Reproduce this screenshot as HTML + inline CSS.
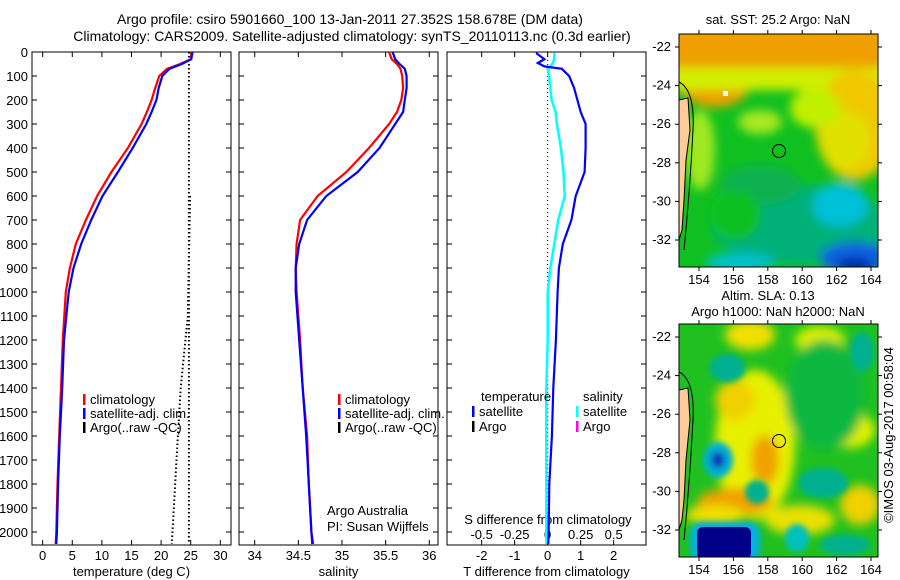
<!DOCTYPE html>
<html><head><meta charset="utf-8">
<style>
html,body{margin:0;padding:0;background:#fff;}
svg{display:block;font-family:"Liberation Sans",sans-serif;}
text{font-size:13px;fill:#000;}
</style></head>
<body>
<svg id="fig" width="900" height="580" viewBox="0 0 900 580" xmlns="http://www.w3.org/2000/svg">
<defs>
<filter id="bl" x="-50%" y="-50%" width="200%" height="200%"><feGaussianBlur stdDeviation="5"/></filter>
<filter id="bl2" x="-50%" y="-50%" width="200%" height="200%"><feGaussianBlur stdDeviation="3"/></filter>
<clipPath id="c1"><rect x="679" y="34" width="199" height="233"/></clipPath>
<clipPath id="c2"><rect x="679" y="324" width="199" height="233"/></clipPath>
</defs>
<text x="350" y="24" text-anchor="middle" style="font-size:14px">Argo profile: csiro 5901660_100 13-Jan-2011 27.352S 158.678E (DM data)</text>
<text x="352" y="41" text-anchor="middle" style="font-size:14px">Climatology: CARS2009. Satellite-adjusted climatology: synTS_20110113.nc (0.3d earlier)</text>

<!-- Map 1 -->
<text x="778" y="24" text-anchor="middle">sat. SST: 25.2 Argo: NaN</text>
<g clip-path="url(#c1)">
<rect x="679" y="34" width="199" height="233" fill="#10c020"/>
<g filter="url(#bl)">
<rect x="660" y="20" width="240" height="50" fill="#f0a000"/>
<ellipse cx="715" cy="85" rx="35" ry="22" fill="#f0a000"/>
<rect x="660" y="68" width="240" height="22" fill="#d0f000"/>
<ellipse cx="855" cy="125" rx="40" ry="55" fill="#f0c800"/>
<ellipse cx="845" cy="140" rx="25" ry="30" fill="#e0e000"/>
<ellipse cx="815" cy="108" rx="25" ry="20" fill="#c0f000"/>
<ellipse cx="760" cy="122" rx="22" ry="12" fill="#a8e820"/>
<ellipse cx="700" cy="150" rx="15" ry="40" fill="#a0e820"/>
<ellipse cx="800" cy="225" rx="90" ry="40" fill="#00b078"/>
<ellipse cx="760" cy="185" rx="40" ry="20" fill="#10b050"/>
<ellipse cx="840" cy="205" rx="28" ry="22" fill="#00c0d8"/>
<ellipse cx="740" cy="262" rx="35" ry="9" fill="#00c0d0"/>
<ellipse cx="735" cy="215" rx="25" ry="25" fill="#10c020"/>
<ellipse cx="855" cy="258" rx="35" ry="16" fill="#1060e0"/>
<ellipse cx="855" cy="265" rx="18" ry="7" fill="#0020a0"/>
</g>
<path d="M679,100 L688,98 L690,130 L686,160 L684,200 L682,230 L679,240 Z" fill="#ffcc99" stroke="#000" stroke-width="1"/>
<path d="M679,82 Q695,90 693,130 Q690,190 684,250" fill="none" stroke="#000"/>
<rect x="723" y="91" width="5" height="5" fill="#fff"/>
</g>
<circle cx="779" cy="151" r="6.5" fill="none" stroke="#000"/>
<rect x="679" y="34" width="199" height="233" fill="none" stroke="#000"/>

<!-- Map 2 -->
<text x="768" y="300" text-anchor="middle">Altim. SLA: 0.13</text>
<text x="778" y="316" text-anchor="middle">Argo h1000: NaN h2000: NaN</text>
<g clip-path="url(#c2)">
<rect x="679" y="324" width="199" height="233" fill="#20c020"/>
<g filter="url(#bl)">
<ellipse cx="755" cy="445" rx="40" ry="75" fill="#e8f000"/>
<ellipse cx="750" cy="335" rx="25" ry="15" fill="#f0e000"/>
<ellipse cx="735" cy="400" rx="20" ry="20" fill="#f0d000"/>
<ellipse cx="765" cy="460" rx="14" ry="25" fill="#f0a000"/>
<ellipse cx="735" cy="502" rx="38" ry="14" fill="#f0a000"/>
<ellipse cx="715" cy="515" rx="30" ry="10" fill="#f0e000"/>
<ellipse cx="850" cy="430" rx="25" ry="18" fill="#e0f000"/>
<ellipse cx="860" cy="505" rx="20" ry="20" fill="#f0d000"/>
<ellipse cx="800" cy="520" rx="35" ry="15" fill="#e8e000"/>
<ellipse cx="820" cy="340" rx="25" ry="14" fill="#d8f000"/>
<ellipse cx="825" cy="395" rx="40" ry="55" fill="#10b840"/>
</g>
<g filter="url(#bl2)">
<ellipse cx="727" cy="368" rx="18" ry="14" fill="#00b090"/>
<ellipse cx="862" cy="352" rx="12" ry="20" fill="#00b090"/>
<ellipse cx="718" cy="460" rx="15" ry="18" fill="#00b0d0"/>
<ellipse cx="718" cy="460" rx="7" ry="8" fill="#1040c0"/>
<ellipse cx="757" cy="492" rx="12" ry="12" fill="#00b090"/>
<ellipse cx="823" cy="483" rx="25" ry="15" fill="#00b090"/>
<ellipse cx="797" cy="538" rx="12" ry="14" fill="#00c0c0"/>
<ellipse cx="845" cy="545" rx="25" ry="10" fill="#00b090"/>
<rect x="690" y="522" width="70" height="40" rx="12" fill="#00b0e0"/>
</g>
<rect x="697" y="527" width="54" height="32" rx="6" fill="#000088"/>
<path d="M679,390 L688,388 L690,420 L686,460 L684,500 L682,520 L679,530 Z" fill="#ffcc99" stroke="#000" stroke-width="1"/>
<path d="M679,372 Q695,380 693,420 Q690,480 684,540" fill="none" stroke="#000"/>
</g>
<circle cx="779" cy="441" r="6.5" fill="none" stroke="#000"/>
<rect x="679" y="324" width="199" height="233" fill="none" stroke="#000"/>
<text transform="translate(893,435) rotate(-90)" text-anchor="middle">©IMOS 03-Aug-2017 00:58:04</text>
<g id="mapaxes"></g>
<g id="panels"></g>
</svg>
<script>
// ---- data ----
const depthTicks = [0,100,200,300,400,500,600,700,800,900,1000,1100,1200,1300,1400,1500,1600,1700,1800,1900,2000];
const tempTicks = [0,5,10,15,20,25,30];
const salTicks = [34,34.5,35,35.5,36];
const salTickLabels = ["34","34.5","35","35.5","36"];
const tdTicks = [-2,-1,0,1,2];
const sdTicks = [-0.5,-0.25,0,0.25,0.5];
const sdTickLabels = ["-0.5","-0.25","0","0.25","0.5"];

const depthsClim = [0,30,50,70,100,150,200,250,300,400,500,600,700,800,900,1000,1200,1400,1600,1800,2000,2050];
const tempClim   = [25.2,25.0,23.2,21.0,19.7,19.0,18.4,17.6,16.7,14.4,11.6,9.2,7.3,5.6,4.6,3.9,3.4,3.1,2.8,2.5,2.3,2.2];
const tempSat    = [25.3,25.1,23.5,21.4,20.2,19.6,19.2,18.4,17.5,15.2,12.7,10.1,8.2,6.5,5.2,4.4,3.6,3.3,2.9,2.6,2.4,2.3];
const salClim    = [35.54,35.57,35.63,35.67,35.69,35.70,35.68,35.63,35.54,35.31,35.05,34.72,34.52,34.48,34.47,34.48,34.52,34.55,34.60,34.62,34.65,34.67];
const salSat     = [35.58,35.61,35.66,35.72,35.74,35.74,35.72,35.70,35.61,35.43,35.18,34.82,34.60,34.51,34.47,34.47,34.51,34.55,34.59,34.62,34.65,34.66];

const argoDepthA = [0,2050];
const argoTempA  = [24.7,24.7];
const argoDepthB = [600,1100,1400,1700,2050];
const argoTempB  = [24.9,24.5,23.3,22.6,21.8];

const depthsDiff = [4,30,46,60,70,100,150,200,250,300,400,500,600,700,800,900,1000,1200,1400,1600,1800,2000,2050];
const tDiffSat   = [-0.35,-0.1,-0.3,-0.1,0.43,0.65,0.8,0.9,1.0,1.15,1.15,1.12,0.85,0.72,0.46,0.34,0.3,0.25,0.17,0.13,0.05,0.03,0.02];
const sDiffSat   = [0.05,0.05,0.04,0.02,0.0,0.01,0.02,0.03,0.06,0.07,0.1,0.12,0.13,0.08,0.05,0.02,0.0,0.0,-0.01,-0.01,-0.01,-0.01,-0.01];

const mapLonTicks = [154,156,158,160,162,164];
const mapLatTicks = [-22,-24,-26,-28,-30,-32];

// ---- axes ----
const NS = "http://www.w3.org/2000/svg";
const Y0 = 52, YB = 545;
function yD(d){ return Y0 + d*0.24; }
function mk(tag, attrs, parent){
  const e = document.createElementNS(NS, tag);
  for (const k in attrs) e.setAttribute(k, attrs[k]);
  parent.appendChild(e); return e;
}
const root = document.getElementById('panels');

function panel(name, x0, x1, xmin, xmax, ticks, labels, xlabel, showY){
  const g = mk('g', {}, root);
  
  
  const sx = v => x0 + (v - xmin) / (xmax - xmin) * (x1 - x0);
  const fr = mk('rect', {x:x0, y:Y0, width:x1-x0, height:YB-Y0, fill:'none', stroke:'#000'}, g);
  
  
  depthTicks.forEach(d => {
    const y = yD(d);
    mk('line', {x1:x0, x2:x0+5, y1:y, y2:y, stroke:'#000'}, g);
    mk('line', {x1:x1-5, x2:x1, y1:y, y2:y, stroke:'#000'}, g);
    if (showY) {
      const t = mk('text', {x:x0-4, y:y+5, 'text-anchor':'end'}, g);
      t.textContent = d;
      
      
    }
  });
  if (ticks) ticks.forEach((v,i) => {
    const x = sx(v);
    mk('line', {x1:x, x2:x, y1:Y0, y2:Y0+5, stroke:'#000'}, g);
    mk('line', {x1:x, x2:x, y1:YB-5, y2:YB, stroke:'#000'}, g);
    const t = mk('text', {x:x, y:YB+15, 'text-anchor':'middle'}, g);
    t.textContent = labels[i];
    
    
  });
  const xl = mk('text', {x:(x0+x1)/2, y:576, 'text-anchor':'middle'}, g);
  xl.textContent = xlabel;
  
  
  return {g, sx};
}
function line(p, depths, vals, color, name, dash, w){
  const pts = depths.map((d,i) => p.sx(vals[i]).toFixed(1) + ',' + yD(d).toFixed(1)).join(' ');
  const a = {points:pts, fill:'none', stroke:color, 'stroke-width':w||2.2};
  if (dash) a['stroke-dasharray'] = dash;
  const e = mk('polyline', a, p.g);
  
  
}
function legend(g, x, y, color, label){
  mk('rect', {x:x, y:y-10, width:2.5, height:11, fill:color}, g);
  const t = mk('text', {x:x+7, y:y}, g);
  t.textContent = label;
  
  
}

// Panel 1: temperature
const p1 = panel('temperature-panel', 32, 231, -1.8, 31.8, tempTicks, tempTicks.map(String), 'temperature (deg C)', true);
line(p1, argoDepthA, argoTempA, '#000', 'argo-temp-line-a', '1.5,2.5', 2);
line(p1, argoDepthB, argoTempB, '#000', 'argo-temp-line-b', '1.5,2.5', 2);
line(p1, depthsClim, tempClim, '#ff0000', 'climatology-temp-line');
line(p1, depthsClim, tempSat, '#0000ff', 'satellite-temp-line');
legend(p1.g, 83, 404, '#ff0000', 'climatology');
legend(p1.g, 83, 418, '#0000ff', 'satellite-adj. clim.');
legend(p1.g, 83, 432, '#000', 'Argo(..raw -QC)');

// Panel 2: salinity
const p2 = panel('salinity-panel', 239, 438, 33.82, 36.1, salTicks, salTickLabels, 'salinity', false);
line(p2, depthsClim, salClim, '#ff0000', 'climatology-salinity-line');
line(p2, depthsClim, salSat, '#0000ff', 'satellite-salinity-line');
legend(p2.g, 338, 404, '#ff0000', 'climatology');
legend(p2.g, 338, 418, '#0000ff', 'satellite-adj. clim.');
legend(p2.g, 338, 432, '#000', 'Argo(..raw -QC)');
[['Argo Australia',515],['PI: Susan Wijffels',531]].forEach(a => {
  const t = mk('text', {x:327, y:a[1]}, p2.g);
  t.textContent = a[0];
  
  
});

// Panel 3: differences
const p3 = panel('difference-panel', 447, 646, -3.05, 2.98, tdTicks, tdTicks.map(String), 'T difference from climatology', false);
const sxS = v => p3.sx(0) + v * (p3.sx(1) - p3.sx(0)) * 4;
mk('line', {x1:p3.sx(0), x2:p3.sx(0), y1:Y0, y2:YB, stroke:'#000', 'stroke-dasharray':'1,3'}, p3.g);
sdTicks.forEach((v,i) => {
  const t = mk('text', {x:sxS(v), y:539, 'text-anchor':'middle'}, p3.g);
  t.textContent = sdTickLabels[i];
  
  
});
const st = mk('text', {x:548, y:524, 'text-anchor':'middle'}, p3.g);
st.textContent = 'S difference from climatology';


{
  const pts = depthsDiff.map((d,i) => sxS(sDiffSat[i]).toFixed(1) + ',' + yD(d).toFixed(1)).join(' ');
  const e = mk('polyline', {points:pts, fill:'none', stroke:'#00ffff', 'stroke-width':2.5}, p3.g);
  
  
}
line(p3, depthsDiff, tDiffSat, '#0000ff', 'temperature-diff-satellite-line');
{
  const t1 = mk('text', {x:481, y:401}, p3.g); t1.textContent = 'temperature';
  
  
  const t2 = mk('text', {x:583, y:401}, p3.g); t2.textContent = 'salinity';
  
  
}
legend(p3.g, 472, 416, '#0000ff', 'satellite');
legend(p3.g, 472, 431, '#000', 'Argo');
legend(p3.g, 576, 416, '#00ffff', 'satellite');
legend(p3.g, 576, 431, '#ff00ff', 'Argo');

// Map axes
const ma = document.getElementById('mapaxes');
const lonX = v => 699 + (v - 154) * 17.2;
[[34,267],[324,557]].forEach((b, mi) => {
  const latY = v => b[0] + 13 + (-22 - v) * 19.3;
  mapLonTicks.forEach(v => {
    const x = lonX(v);
    mk('line', {x1:x, x2:x, y1:b[0]-4, y2:b[0], stroke:'#000'}, ma);
    mk('line', {x1:x, x2:x, y1:b[1], y2:b[1]+4, stroke:'#000'}, ma);
    const t = mk('text', {x:x, y:b[1]+17, 'text-anchor':'middle'}, ma);
    t.textContent = v;
    
    
  });
  mapLatTicks.forEach(v => {
    const y = latY(v);
    mk('line', {x1:675, x2:679, y1:y, y2:y, stroke:'#000'}, ma);
    mk('line', {x1:878, x2:882, y1:y, y2:y, stroke:'#000'}, ma);
    const t = mk('text', {x:671, y:y+4, 'text-anchor':'end'}, ma);
    t.textContent = v;
    
    
  });
});
</script>
</body></html>
